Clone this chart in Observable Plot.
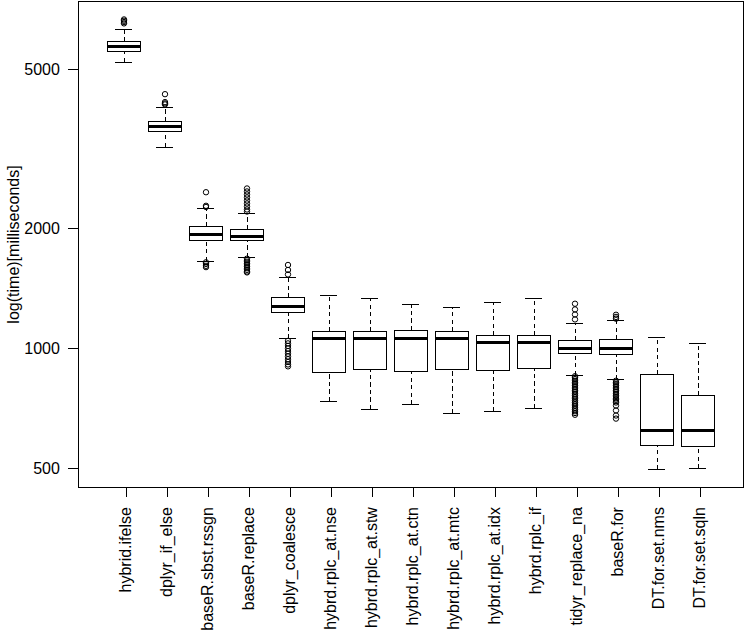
<!DOCTYPE html>
<html>
<head>
<meta charset="utf-8">
<script src="https://cdn.jsdelivr.net/npm/d3@7"></script>
<script src="https://cdn.jsdelivr.net/npm/@observablehq/plot@0.6"></script>
<style>
  html, body { margin: 0; padding: 0; background: #fff; }
  svg { display: block; }
</style>
</head>
<body>
<div id="chart"></div>
<script>
const categories = ["hybrid.ifelse","dplyr_if_else","baseR.sbst.rssgn","baseR.replace","dplyr_coalesce","hybrd.rplc_at.nse","hybrd.rplc_at.stw","hybrd.rplc_at.ctn","hybrd.rplc_at.mtc","hybrd.rplc_at.idx","hybrd.rplc_if","tidyr_replace_na","baseR.for","DT.for.set.nms","DT.for.set.sqln"];
const lowerWhisker = [5218, 3194, 1653, 1689, 1057, 735, 702, 722, 686, 694, 707, 856, 835, 496, 499];
const q1 = [5538, 3497, 1863, 1863, 1229, 869, 884, 874, 884, 879, 889, 970, 964, 571, 567];
const median = [5713, 3599, 1929, 1906, 1277, 1057, 1057, 1057, 1057, 1033, 1033, 1000, 1000, 622, 622];
const q3 = [5882, 3705, 2020, 1985, 1340, 1101, 1101, 1108, 1101, 1076, 1076, 1045, 1051, 859, 761];
const upperWhisker = [6303, 4030, 2241, 2177, 1510, 1356, 1332, 1287, 1265, 1302, 1332, 1153, 1174, 1064, 1027];
const outliers = [
  [6690, 6640, 6590, 6540],
  [4345, 4150, 4120, 4095],
  [2466, 2280, 2265, 1645, 1630, 1612, 1600],
  [2520, 2477, 2434, 2393, 2351, 2311, 2271, 2232, 2206, 1680, 1665, 1650, 1635, 1620, 1605, 1590, 1575, 1560, 1552],
  [1620, 1574, 1534, 1045, 1030, 1015, 1000, 985, 970, 955, 940, 925, 912, 902],
  [], [], [], [], [], [],
  [1295, 1253, 1217, 1183, 852, 845, 838, 830, 822, 815, 808, 800, 792, 785, 778, 770, 762, 755, 748, 740, 732, 725, 718, 710, 703, 696, 689, 682],
  [1215, 1200, 1188, 830, 822, 815, 808, 800, 792, 785, 778, 770, 763, 756, 750, 744, 738, 732, 719, 699, 679, 667],
  [], []
];
const yTicks = [500, 1000, 2000, 5000];
const yLabel = "log(time)[milliseconds]";

const table = categories.map((name, i) => ({
  name, lo: lowerWhisker[i], q1: q1[i], med: median[i], q3: q3[i], hi: upperWhisker[i]
}));
const outl = outliers.flatMap((arr, i) => arr.map(v => ({name: categories[i], v})));

const font = "Arial, 'Liberation Sans', sans-serif";
const capInset = 8.2;
const crisp = "crispEdges";
const dash = "4.3,3.2";

const chart = Plot.plot({
  width: 745,
  height: 643,
  marginLeft: 78,
  marginRight: 2.5,
  marginTop: 1,
  marginBottom: 156,
  style: {fontFamily: font, fontSize: "16px", background: "#fff", color: "#000"},
  x: {type: "band", domain: categories, paddingInner: 0.2, paddingOuter: 0.7},
  y: {type: "log", domain: [448, 7421]},
  marks: [
    Plot.ruleX(table, {x: "name", y1: "lo", y2: "q1", stroke: "#000", strokeDasharray: dash, shapeRendering: crisp}),
    Plot.ruleX(table, {x: "name", y1: "q3", y2: "hi", stroke: "#000", strokeDasharray: dash, shapeRendering: crisp}),
    Plot.tickY(table, {x: "name", y: "lo", stroke: "#000", insetLeft: capInset, insetRight: capInset, shapeRendering: crisp}),
    Plot.tickY(table, {x: "name", y: "hi", stroke: "#000", insetLeft: capInset, insetRight: capInset, shapeRendering: crisp}),
    Plot.barY(table, {x: "name", y1: "q1", y2: "q3", fill: "none", stroke: "#000", strokeWidth: 1, shapeRendering: crisp}),
    Plot.tickY(table, {x: "name", y: "med", stroke: "#000", strokeWidth: 3, shapeRendering: crisp}),
    Plot.dot(outl, {x: "name", y: "v", r: 2.7, stroke: "#000", fill: "none", strokeWidth: 1}),
    Plot.frame({stroke: "#000", shapeRendering: crisp}),
    Plot.axisY({ticks: yTicks, tickFormat: d => String(d), tickSize: 9.6, tickPadding: 9, fontSize: 16,
      shapeRendering: crisp, label: yLabel, labelAnchor: "center", labelArrow: "none", labelOffset: 71}),
    Plot.axisX({tickSize: 9.6, tickPadding: 10, tickRotate: -90, fontSize: 16, dx: 2, shapeRendering: crisp, label: null})
  ]
});
document.getElementById("chart").appendChild(chart);
</script>
</body>
</html>
